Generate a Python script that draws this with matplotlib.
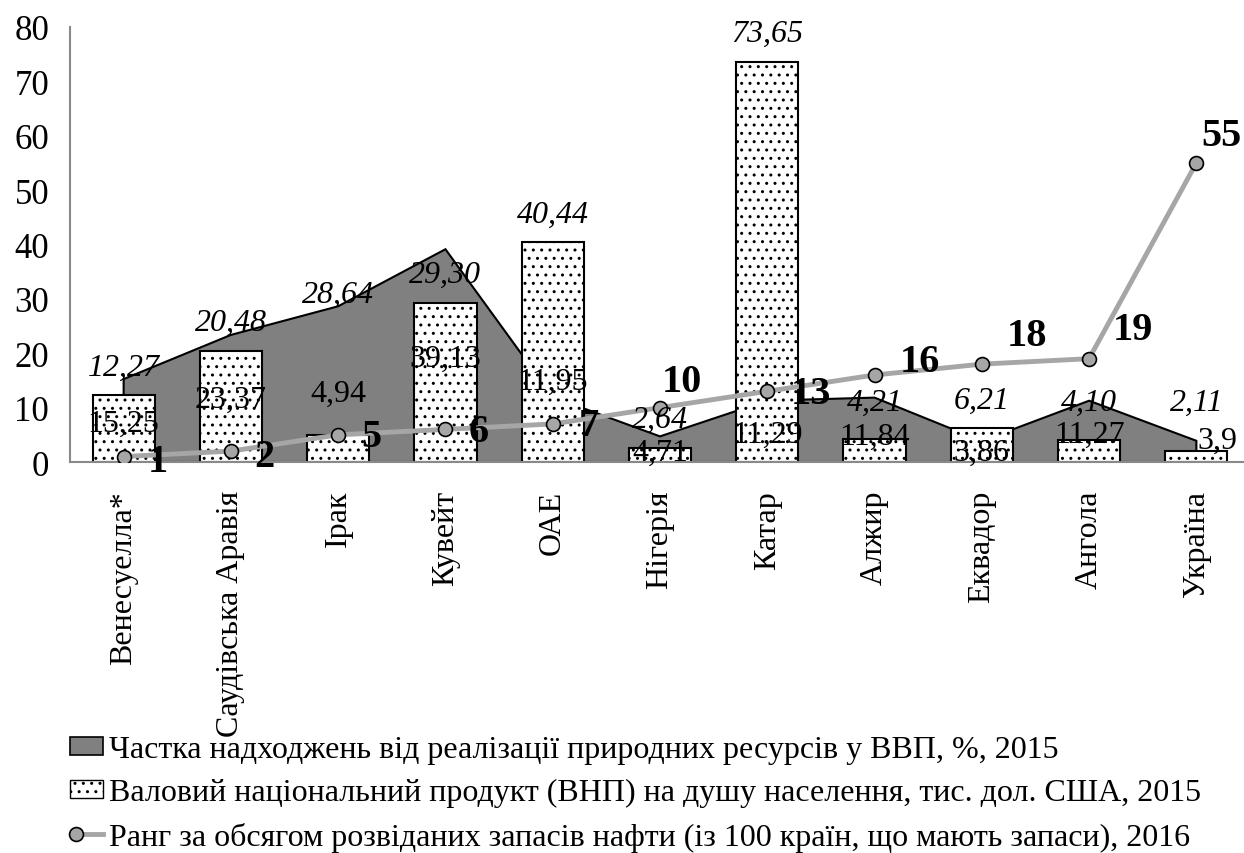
import numpy as np
import matplotlib.pyplot as plt
from matplotlib.patches import Patch
from matplotlib.lines import Line2D
from matplotlib.legend_handler import HandlerBase

plt.rcParams['font.family'] = ['Liberation Serif', 'DejaVu Serif']

countries = ['Венесуелла*', 'Саудівська Аравія', 'Ірак', 'Кувейт', 'ОАЕ', 'Нігерія',
             'Катар', 'Алжир', 'Еквадор', 'Ангола', 'Україна']
# частка надходжень від природних ресурсів у ВВП, %, 2015 (area)
rents = [15.25, 23.37, 28.64, 39.13, 11.95, 4.71, 11.29, 11.84, 3.86, 11.27, 3.9]
rents_text = ['15,25', '23,37', '4,94', '39,13', '11,95', '4,71', '11,29', '11,84', '3,86', '11,27', '3,9']
# ВНП на душу населення, тис. дол. США, 2015 (bars)
gnp = [12.27, 20.48, 4.94, 29.30, 40.44, 2.64, 73.65, 4.21, 6.21, 4.10, 2.11]
gnp_text = ['12,27', '20,48', '28,64', '29,30', '40,44', '2,64', '73,65', '4,21', '6,21', '4,10', '2,11']
# ранг за обсягом розвіданих запасів нафти, 2016 (line)
rank = [1, 2, 5, 6, 7, 10, 13, 16, 18, 19, 55]

legend_labels = ['Частка надходжень від реалізації природних ресурсів у ВВП, %, 2015',
                 'Валовий національний продукт (ВНП) на душу населення, тис. дол. США, 2015',
                 'Ранг за обсягом розвіданих запасів нафти (із 100 країн, що мають запаси), 2016']

# label placement (data units / pixel offsets)
gnp_lbl_y = {2: 30.9, 7: 11.0, 9: 11.0, 10: 11.0}
rents_lbl_y = [7.2, 11.6, 12.7, 19.1, 14.9, 1.7, 5.1, 4.8, 1.7, 5.1, 4.0]
rents_lbl_dx = [0, 0, 0, 0, 0, 0, 0, 0, 0, 0, 0.2]
rank_off = [(34, -5), (33, -5), (33, -2), (33, -2), (36, -2), (22, 26), (44, -2),
            (45, 13), (45, 29), (44, 29), (25, 27)]

gray_area = '#808080'
gray_line = '#A6A6A6'
axis_col = '#898989'


class LeftMarker(HandlerBase):
    # marker at the left end of the legend line, like the original
    def create_artists(self, legend, orig_handle, xdescent, ydescent, width, height,
                       fontsize, trans):
        y = height / 2 - ydescent
        x0 = -xdescent + 0.18 * width
        line = Line2D([x0, -xdescent + width], [y, y], color=gray_line, lw=3.5,
                      transform=trans)
        mk = Line2D([x0], [y], ls='none', marker='o', ms=10, mfc=gray_line,
                    mec='black', mew=1.2, transform=trans)
        return [line, mk]


fig = plt.figure(figsize=(12.44, 8.54), dpi=100)
ax = fig.add_axes([70 / 1244, 1 - 463 / 854, 1180 / 1244, 435 / 854])
x = np.arange(len(countries))

ax.fill(np.r_[x[0], x, x[-1]], np.r_[0, rents, 0], facecolor=gray_area,
        edgecolor='black', lw=1.5, zorder=1)
ax.bar(x, gnp, width=0.58, color='white', edgecolor='black', hatch='..', lw=1.5, zorder=2)
ax.plot(x, rank, color=gray_line, lw=3.5, marker='o', ms=10, mfc=gray_line,
        mec='black', mew=1.2, zorder=4)

for i in range(len(x)):
    yb = gnp_lbl_y.get(i, gnp[i] + 5.2)
    ax.text(x[i], yb, gnp_text[i], ha='center', va='center', fontsize=23,
            style='italic', zorder=5)
    ax.text(x[i] + rents_lbl_dx[i], rents_lbl_y[i], rents_text[i], ha='center',
            va='center', fontsize=23, zorder=5)
    ax.annotate(str(rank[i]), (x[i], rank[i]), xytext=rank_off[i],
                textcoords='offset pixels', ha='center', va='center',
                fontsize=29, fontweight='bold', zorder=6, annotation_clip=False)

ax.set_xlim(-0.5, len(x) - 0.5)
ax.set_ylim(0, 80)
ax.set_yticks(range(0, 81, 10))
ax.set_xticks(x)
ax.set_xticklabels(countries, rotation=90, ha='center', va='top', fontsize=23)
ax.tick_params(axis='y', length=0, labelsize=25, pad=15)
ax.tick_params(axis='x', length=0, pad=20)
for s in ['top', 'right']:
    ax.spines[s].set_visible(False)
for s in ['left', 'bottom']:
    ax.spines[s].set_color(axis_col)
    ax.spines[s].set_linewidth(1.5)
    ax.spines[s].set_zorder(3)

line_handle = Line2D([0], [0], color=gray_line, lw=3.5, marker='o')
handles = [Patch(facecolor=gray_area, edgecolor='black', lw=1.2),
           Patch(facecolor='white', edgecolor='black', hatch='..', lw=1.0),
           line_handle]
fig.legend(handles, legend_labels, loc='upper left', bbox_to_anchor=(70 / 1244, 1 - 736 / 854),
           frameon=False, fontsize=23, handlelength=1.03, handleheight=0.5,
           handletextpad=0.2, labelspacing=0.45, borderpad=0, borderaxespad=0,
           handler_map={line_handle: LeftMarker()})

fig.savefig('out.png', dpi=100)
